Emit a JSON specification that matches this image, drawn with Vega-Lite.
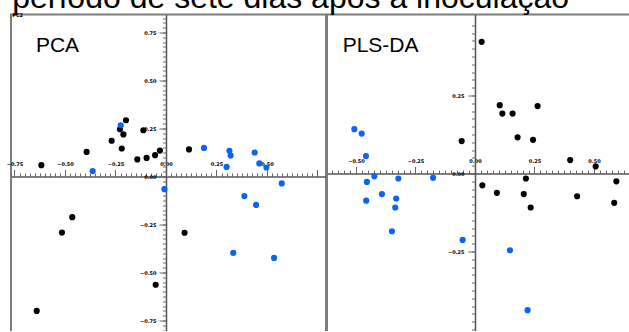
{
 "$schema": "https://vega.github.io/schema/vega-lite/v6.json",
 "padding": {"left": 5, "top": -18.5, "right": -3, "bottom": -3},
 "title": {"text": "período de sete dias após a inoculação", "subtitle": "PC2", "anchor": "start", "font": "Liberation Sans", "fontSize": 32, "fontWeight": "normal", "color": "#000000", "subtitleFont": "DejaVu Sans", "subtitleFontSize": 5, "subtitleFontWeight": "bold", "subtitleColor": "#000000", "subtitlePadding": -2, "offset": -5.5, "dx": 7},
 "spacing": -2,
 "datasets": {
  "pca": [
   {"x": -0.617, "y": 0.059, "g": "black"}, {"x": -0.393, "y": 0.128, "g": "black"}, {"x": -0.269, "y": 0.186, "g": "black"}, {"x": -0.219, "y": 0.146, "g": "black"}, {"x": -0.228, "y": 0.246, "g": "black"}, {"x": -0.211, "y": 0.219, "g": "black"}, {"x": -0.198, "y": 0.293, "g": "black"}, {"x": -0.112, "y": 0.241, "g": "black"}, {"x": -0.142, "y": 0.089, "g": "black"}, {"x": -0.096, "y": 0.097, "g": "black"}, {"x": -0.054, "y": 0.111, "g": "black"}, {"x": -0.030, "y": 0.135, "g": "black"}, {"x": 0.114, "y": 0.141, "g": "black"}, {"x": -0.464, "y": -0.212, "g": "black"}, {"x": -0.515, "y": -0.292, "g": "black"}, {"x": -0.640, "y": -0.700, "g": "black"}, {"x": -0.051, "y": -0.564, "g": "black"}, {"x": 0.092, "y": -0.293, "g": "black"},
   {"x": -0.224, "y": 0.267, "g": "blue"}, {"x": -0.363, "y": 0.028, "g": "blue"}, {"x": 0.188, "y": 0.149, "g": "blue"}, {"x": 0.314, "y": 0.134, "g": "blue"}, {"x": 0.320, "y": 0.109, "g": "blue"}, {"x": 0.300, "y": 0.050, "g": "blue"}, {"x": 0.439, "y": 0.125, "g": "blue"}, {"x": 0.462, "y": 0.068, "g": "blue"}, {"x": 0.497, "y": 0.047, "g": "blue"}, {"x": -0.008, "y": -0.066, "g": "blue"}, {"x": 0.388, "y": -0.102, "g": "blue"}, {"x": 0.446, "y": -0.148, "g": "blue"}, {"x": 0.573, "y": -0.036, "g": "blue"}, {"x": 0.333, "y": -0.398, "g": "blue"}, {"x": 0.535, "y": -0.424, "g": "blue"}
  ],
  "pls": [
   {"x": -0.056, "y": 0.104, "g": "black"}, {"x": 0.028, "y": 0.422, "g": "black"}, {"x": 0.104, "y": 0.219, "g": "black"}, {"x": 0.115, "y": 0.192, "g": "black"}, {"x": 0.158, "y": 0.192, "g": "black"}, {"x": 0.263, "y": 0.216, "g": "black"}, {"x": 0.179, "y": 0.116, "g": "black"}, {"x": 0.244, "y": 0.108, "g": "black"}, {"x": 0.400, "y": 0.043, "g": "black"}, {"x": 0.507, "y": 0.023, "g": "black"}, {"x": 0.031, "y": -0.038, "g": "black"}, {"x": 0.092, "y": -0.062, "g": "black"}, {"x": 0.214, "y": -0.016, "g": "black"}, {"x": 0.205, "y": -0.066, "g": "black"}, {"x": 0.234, "y": -0.109, "g": "black"}, {"x": 0.429, "y": -0.073, "g": "black"}, {"x": 0.594, "y": -0.025, "g": "black"}, {"x": 0.585, "y": -0.094, "g": "black"},
   {"x": -0.507, "y": 0.142, "g": "blue"}, {"x": -0.476, "y": 0.128, "g": "blue"}, {"x": -0.458, "y": 0.056, "g": "blue"}, {"x": -0.423, "y": -0.009, "g": "blue"}, {"x": -0.454, "y": -0.027, "g": "blue"}, {"x": -0.322, "y": -0.016, "g": "blue"}, {"x": -0.176, "y": -0.014, "g": "blue"}, {"x": -0.391, "y": -0.066, "g": "blue"}, {"x": -0.457, "y": -0.087, "g": "blue"}, {"x": -0.331, "y": -0.080, "g": "blue"}, {"x": -0.335, "y": -0.109, "g": "blue"}, {"x": -0.349, "y": -0.185, "g": "blue"}, {"x": -0.052, "y": -0.213, "g": "blue"}, {"x": 0.147, "y": -0.246, "g": "blue"}, {"x": 0.221, "y": -0.438, "g": "blue"}
  ],
  "pcaLabel": [{"x": -0.644, "y": 0.646, "label": "PCA"}],
  "plsLabel": [{"x": -0.556, "y": 0.390, "label": "PLS-DA"}]
 },
 "hconcat": [
  {
   "width": 315, "height": 318,
   "resolve": {"axis": {"x": "independent", "y": "independent"}},
   "layer": [
    {
     "data": {"name": "pca"},
     "mark": {"type": "circle", "size": 38, "opacity": 1},
     "encoding": {
      "x": {"field": "x", "type": "quantitative", "title": null, "scale": {"domain": [-0.7673, 0.7921], "nice": false, "zero": false},
       "axis": {"orient": "top", "offset": -162, "values": [-0.75, -0.5, -0.25, 0, 0.25, 0.5, 0.75], "format": ".2f", "labelExpr": "datum.value > 0.7 ? '' : datum.label", "tickSize": 7, "labelPadding": 3.5}},
      "y": {"field": "y", "type": "quantitative", "title": null, "scale": {"domain": [-0.8125, 0.84375], "nice": false, "zero": false},
       "axis": {"orient": "left", "offset": -155, "values": [-0.75, -0.5, -0.25, 0, 0.25, 0.5, 0.75], "format": ".2f", "tickSize": 7, "labelPadding": 3}},
      "color": {"field": "g", "type": "nominal", "scale": {"domain": ["black", "blue"], "range": ["#000000", "#0a64f5"]}, "legend": null}
     }
    },
    {
     "data": {"name": "pcaLabel"},
     "mark": {"type": "text", "font": "Liberation Sans", "fontSize": 21, "align": "left", "baseline": "alphabetic", "color": "#000000"},
     "encoding": {
      "x": {"field": "x", "type": "quantitative", "title": null,
       "axis": {"orient": "top", "offset": -162, "labels": false, "domain": false, "tickSize": 3.5, "values": [-0.75,-0.725,-0.7,-0.675,-0.65,-0.625,-0.6,-0.575,-0.55,-0.525,-0.5,-0.475,-0.45,-0.425,-0.4,-0.375,-0.35,-0.325,-0.3,-0.275,-0.25,-0.225,-0.2,-0.175,-0.15,-0.125,-0.1,-0.075,-0.05,-0.025,0,0.025,0.05,0.075,0.1,0.125,0.15,0.175,0.2,0.225,0.25,0.275,0.3,0.325,0.35,0.375,0.4,0.425,0.45,0.475,0.5,0.525,0.55,0.575,0.6,0.625,0.65,0.675,0.7,0.725,0.75]}},
      "y": {"field": "y", "type": "quantitative", "title": null,
       "axis": {"orient": "left", "offset": -155, "labels": false, "domain": false, "tickSize": 3.5, "values": [-0.8,-0.775,-0.75,-0.725,-0.7,-0.675,-0.65,-0.625,-0.6,-0.575,-0.55,-0.525,-0.5,-0.475,-0.45,-0.425,-0.4,-0.375,-0.35,-0.325,-0.3,-0.275,-0.25,-0.225,-0.2,-0.175,-0.15,-0.125,-0.1,-0.075,-0.05,-0.025,0,0.025,0.05,0.075,0.1,0.125,0.15,0.175,0.2,0.225,0.25,0.275,0.3,0.325,0.35,0.375,0.4,0.425,0.45,0.475,0.5,0.525,0.55,0.575,0.6,0.625,0.65,0.675,0.7,0.725,0.75,0.775,0.8,0.825]}},
      "text": {"field": "label"}
     }
    }
   ]
  },
  {
   "width": 308, "height": 318,
   "resolve": {"axis": {"x": "independent", "y": "independent"}},
   "layer": [
    {
     "data": {"name": "pls"},
     "mark": {"type": "circle", "size": 38, "opacity": 1},
     "encoding": {
      "x": {"field": "x", "type": "quantitative", "title": null, "scale": {"domain": [-0.6218, 0.6723], "nice": false, "zero": false},
       "axis": {"orient": "top", "offset": -159, "values": [-0.5, -0.25, 0, 0.25, 0.5], "format": ".2f", "tickSize": 7, "labelPadding": 3.5}},
      "y": {"field": "y", "type": "quantitative", "title": null, "scale": {"domain": [-0.5096, 0.5096], "nice": false, "zero": false},
       "axis": {"orient": "left", "offset": -148, "values": [-0.25, 0, 0.25], "format": ".2f", "tickSize": 7, "labelPadding": 4}},
      "color": {"field": "g", "type": "nominal", "scale": {"domain": ["black", "blue"], "range": ["#000000", "#0a64f5"]}, "legend": null}
     }
    },
    {
     "data": {"name": "plsLabel"},
     "mark": {"type": "text", "font": "Liberation Sans", "fontSize": 21, "align": "left", "baseline": "alphabetic", "color": "#000000"},
     "encoding": {
      "x": {"field": "x", "type": "quantitative", "title": null,
       "axis": {"orient": "top", "offset": -159, "labels": false, "domain": false, "tickSize": 3.5, "values": [-0.6,-0.575,-0.55,-0.525,-0.5,-0.475,-0.45,-0.425,-0.4,-0.375,-0.35,-0.325,-0.3,-0.275,-0.25,-0.225,-0.2,-0.175,-0.15,-0.125,-0.1,-0.075,-0.05,-0.025,0,0.025,0.05,0.075,0.1,0.125,0.15,0.175,0.2,0.225,0.25,0.275,0.3,0.325,0.35,0.375,0.4,0.425,0.45,0.475,0.5,0.525,0.55,0.575,0.6,0.625,0.65]}},
      "y": {"field": "y", "type": "quantitative", "title": null,
       "axis": {"orient": "left", "offset": -148, "labels": false, "domain": false, "tickSize": 3.5, "values": [-0.5,-0.475,-0.45,-0.425,-0.4,-0.375,-0.35,-0.325,-0.3,-0.275,-0.25,-0.225,-0.2,-0.175,-0.15,-0.125,-0.1,-0.075,-0.05,-0.025,0,0.025,0.05,0.075,0.1,0.125,0.15,0.175,0.2,0.225,0.25,0.275,0.3,0.325,0.35,0.375,0.4,0.425,0.45,0.475]}},
      "text": {"field": "label"}
     }
    }
   ]
  }
 ],
 "config": {
  "view": {"stroke": "#7d7d7d", "strokeWidth": 2},
  "axis": {"labelFont": "DejaVu Sans", "labelFontSize": 5, "labelFontWeight": "bold", "labelColor": "#000000", "domainColor": "#555555", "domainWidth": 1.5, "tickColor": "#666666", "tickWidth": 1, "grid": false, "labelOverlap": false, "labelFlush": false, "labelBound": false}
 }
}
